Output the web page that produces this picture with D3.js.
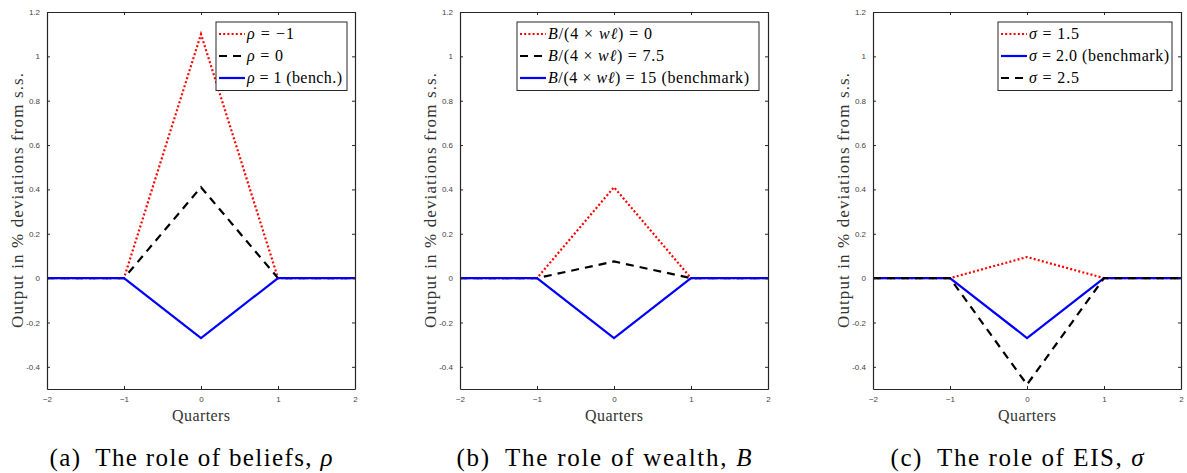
<!DOCTYPE html>
<html><head><meta charset="utf-8">
<script src="https://cdn.jsdelivr.net/npm/d3@7"></script>
<style>
body{margin:0;background:#fff;}
svg{display:block;}
</style></head>
<body>
<svg id="chart" width="1187" height="473"></svg>
<script>
// ---- data ----
const quarters = [-2, -1, 0, 1, 2];
const xTicks = [-2, -1, 0, 1, 2];
const yTicks = [-0.4, -0.2, 0, 0.2, 0.4, 0.6, 0.8, 1, 1.2];
const yTickLabels = ["-0.4", "-0.2", "0", "0.2", "0.4", "0.6", "0.8", "1", "1.2"];

const rhoMinus1 = [0, 0, 1.10, 0, 0];
const rho0      = [0, 0, 0.41, 0, 0];
const rho1      = [0, 0, -0.27, 0, 0];

const wealth0   = [0, 0, 0.41, 0, 0];
const wealth75  = [0, 0, 0.075, 0, 0];
const wealth15  = [0, 0, -0.27, 0, 0];

const sigma15   = [0, 0, 0.095, 0, 0];
const sigma20   = [0, 0, -0.27, 0, 0];
const sigma25   = [0, 0, -0.48, 0, 0];

const captions = ["(a)\u2002The role of beliefs, ", "(b)\u2002The role of wealth, ", "(c)\u2002The role of EIS, "];
const captionVars = ["\u03c1", "B", "\u03c3"];
const xLabel = "Quarters";
const yLabel = "Output in % deviations from s.s.";

const styles = {
  red:   {color: "#ff0000", dash: "2,2.2", width: 2.2},
  black: {color: "#000000", dash: "8,6", width: 2.2},
  blue:  {color: "#0000ff", dash: null, width: 2.2}
};

const panels = [
  {left: 47, series: [
     {values: rhoMinus1, style: "red",   tl: 47,  label: [[1,"\u03c1"],[0," = \u22121"]]},
     {values: rho0,      style: "black", tl: 36,  label: [[1,"\u03c1"],[0," = 0"]]},
     {values: rho1,      style: "blue",  tl: 95,  label: [[1,"\u03c1"],[0," = 1 (bench.)"]]}],
   legend: {x: 216, w: 131}},
  {left: 460, series: [
     {values: wealth0,  style: "red",   tl: 104, label: [[1,"B"],[0,"/(4 \u00d7 "],[1,"w\u2113"],[0,") = 0"]]},
     {values: wealth75, style: "black", tl: 116, label: [[1,"B"],[0,"/(4 \u00d7 "],[1,"w\u2113"],[0,") = 7.5"]]},
     {values: wealth15, style: "blue",  tl: 201, label: [[1,"B"],[0,"/(4 \u00d7 "],[1,"w\u2113"],[0,") = 15 (benchmark)"]]}],
   legend: {x: 517, w: 242}},
  {left: 873, series: [
     {values: sigma15, style: "red",   tl: 50,  label: [[1,"\u03c3"],[0," = 1.5"]]},
     {values: sigma20, style: "blue",  tl: 140, label: [[1,"\u03c3"],[0," = 2.0 (benchmark)"]]},
     {values: sigma25, style: "black", tl: 50,  label: [[1,"\u03c3"],[0," = 2.5"]]}],
   legend: {x: 998, w: 174}}
];

const svg = d3.select("#chart");
const W = 308, plotTop = 12, plotBottom = 389;
const serif = "Liberation Serif";
const sans = "Liberation Sans";
const axisColor = "#262626";

panels.forEach((p, pi) => {
  const x = d3.scaleLinear().domain([-2, 2]).range([p.left, p.left + W]);
  const y = d3.scaleLinear().domain([-0.5, 1.2]).range([plotBottom, plotTop]);
  const g = svg.append("g");

  const clipId = "clip" + pi;
  svg.append("clipPath").attr("id", clipId).append("rect")
    .attr("x", p.left).attr("y", plotTop).attr("width", W).attr("height", plotBottom - plotTop);

  const line = d3.line().x((d, i) => x(quarters[i])).y(d => y(d));
  p.series.forEach(s => {
    const st = styles[s.style];
    g.append("path").datum(s.values)
      .attr("clip-path", `url(#${clipId})`)
      .attr("d", line)
      .attr("fill", "none")
      .attr("stroke", st.color)
      .attr("stroke-width", st.width)
      .attr("stroke-dasharray", st.dash)
      .attr("stroke-linejoin", "miter");
  });

  const axB = d3.axisBottom(x).tickValues(xTicks).tickSizeInner(-3).tickSizeOuter(0).tickPadding(7).tickFormat(d3.format("d"));
  const axT = d3.axisTop(x).tickValues(xTicks).tickSizeInner(-3).tickSizeOuter(0).tickFormat("");
  const axL = d3.axisLeft(y).tickValues(yTicks).tickSizeInner(-3).tickSizeOuter(0).tickPadding(7)
     .tickFormat((d, i) => yTickLabels[i]);
  const axR = d3.axisRight(y).tickValues(yTicks).tickSizeInner(-3).tickSizeOuter(0).tickFormat("");

  const styleAxis = sel => {
    sel.attr("font-family", sans);
    sel.select(".domain").attr("stroke", axisColor).attr("stroke-width", 1.2);
    sel.selectAll(".tick line").attr("stroke", axisColor).attr("stroke-width", 1);
    sel.selectAll(".tick text").attr("font-family", sans).attr("font-size", 8).attr("fill", "#444");
  };
  g.append("g").attr("transform", `translate(0,${plotBottom})`).call(axB).call(styleAxis);
  g.append("g").attr("transform", `translate(0,${plotTop})`).call(axT).call(styleAxis);
  g.append("g").attr("transform", `translate(${p.left},0)`).call(axL).call(styleAxis);
  g.append("g").attr("transform", `translate(${p.left + W},0)`).call(axR).call(styleAxis);

  g.append("text").attr("x", p.left + W / 2).attr("y", 421)
    .attr("text-anchor", "middle").attr("font-family", serif).attr("font-size", 16)
    .attr("fill", "#333").attr("textLength", 58).attr("lengthAdjust", "spacing").text(xLabel);
  g.append("text")
    .attr("transform", `translate(${p.left - 24},${(plotTop + plotBottom) / 2}) rotate(-90)`)
    .attr("text-anchor", "middle").attr("font-family", serif).attr("font-size", 17)
    .attr("fill", "#333").attr("textLength", 255).attr("lengthAdjust", "spacing").text(yLabel);

  const cap = g.append("text").attr("x", p.left + W / 2 - 10).attr("y", 466)
    .attr("text-anchor", "middle").attr("font-family", serif).attr("font-size", 25).attr("fill", "#000")
    .attr("textLength", pi === 1 ? 295 : (pi === 0 ? 283 : 253)).attr("lengthAdjust", "spacing");
  cap.append("tspan").text(captions[pi]);
  cap.append("tspan").attr("font-style", "italic").text(captionVars[pi]);

  const lg = g.append("g");
  const L = p.legend;
  lg.append("rect").attr("x", L.x).attr("y", 22).attr("width", L.w).attr("height", 68.5)
    .attr("fill", "#fff").attr("stroke", axisColor).attr("stroke-width", 1);
  p.series.forEach((s, i) => {
    const st = styles[s.style];
    const yy = 34 + i * 22;
    lg.append("line").attr("x1", L.x + 3).attr("x2", L.x + 29).attr("y1", yy).attr("y2", yy)
      .attr("stroke", st.color).attr("stroke-width", st.width).attr("stroke-dasharray", st.dash);
    const t = lg.append("text").attr("x", L.x + 31).attr("y", yy + 5)
      .attr("font-family", serif).attr("font-size", 16).attr("fill", "#000")
      .attr("textLength", s.tl).attr("lengthAdjust", "spacing");
    s.label.forEach(([it, txt]) => {
      t.append("tspan").attr("font-style", it ? "italic" : "normal").text(txt);
    });
  });
});
</script>
</body></html>
